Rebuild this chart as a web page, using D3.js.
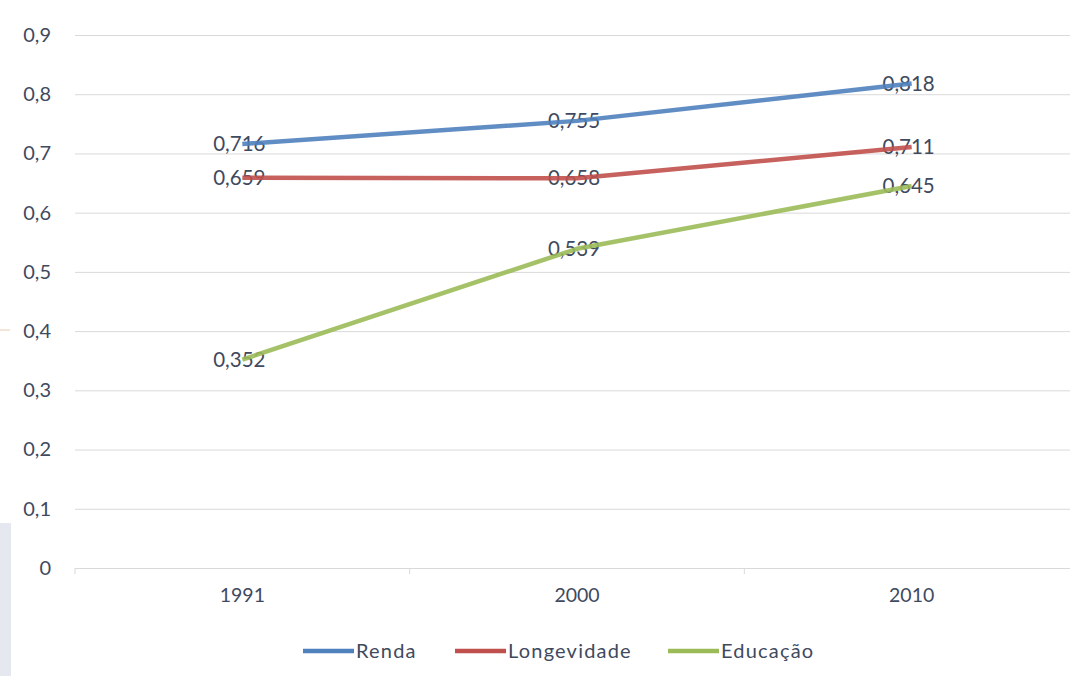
<!DOCTYPE html>
<html><head><meta charset="utf-8">
<script src="https://cdn.jsdelivr.net/npm/d3@7"></script>
<style>body{margin:0;background:#fff;overflow:hidden}svg{display:block}</style>
</head><body>
<svg id="c" width="1070" height="676"></svg>
<script>
const years = ["1991","2000","2010"];
const renda = [0.716, 0.755, 0.818];
const longevidade = [0.659, 0.658, 0.711];
const educacao = [0.352, 0.539, 0.645];
const yTicks = [0,0.1,0.2,0.3,0.4,0.5,0.6,0.7,0.8,0.9];
const seriesNames = ["Renda","Longevidade","Educação"];
const seriesColors = ["#4f81bd","#c0504d","#9bbb59"];
const seriesData = [renda, longevidade, educacao];

const svg = d3.select("#c");
const font = "Lato, 'Open Sans', sans-serif";
const txt = "#3f4a5e";

// artifacts at left edge
svg.append("rect").attr("x",0).attr("y",523).attr("width",11).attr("height",153).attr("fill","#e6e8f0");
svg.append("line").attr("x1",0).attr("x2",10).attr("y1",330).attr("y2",330).attr("stroke","#f2dccd").attr("stroke-width",1.5);

const x = d3.scaleBand().domain(years).range([75,1079]);
const y = d3.scaleLinear().domain([0,0.9]).range([568,35]);
const fmt = v => String(v).replace(".",",");

// gridlines
svg.append("g").selectAll("line").data(yTicks.filter(d=>d>0)).join("line")
  .attr("x1",75).attr("x2",1070).attr("y1",d=>y(d)+0.5).attr("y2",d=>y(d)+0.5)
  .attr("stroke","#d9d9d9").attr("stroke-width",1);

// x axis
const xa = svg.append("g").attr("transform","translate(0,"+(y(0)+0.5)+")")
  .call(d3.axisBottom(x).tickSize(0).tickPadding(20).tickFormat(d=>d));
xa.select(".domain").attr("stroke","#d9d9d9").attr("d","M75,0H1070");
xa.selectAll("text").attr("font-family",font).attr("font-size",19.5).attr("fill",txt);
// category boundary ticks
const bounds = [75, ...years.slice(1).map(d=>x(d))];
svg.append("g").selectAll("line").data(bounds).join("line")
  .attr("x1",d=>d).attr("x2",d=>d).attr("y1",y(0)).attr("y2",y(0)+6)
  .attr("stroke","#d9d9d9");

// y axis labels
const ya = svg.append("g").attr("transform","translate(51,0)")
  .call(d3.axisLeft(y).tickValues(yTicks).tickSize(0).tickPadding(0).tickFormat(fmt));
ya.select(".domain").remove();
ya.selectAll("text").attr("font-family",font).attr("font-size",20).attr("fill",txt);

const cx = d => x(d) + x.bandwidth()/2;

// data labels
seriesData.forEach((vals,i)=>{
  svg.append("g").selectAll("text").data(vals).join("text")
    .attr("x",(d,j)=>cx(years[j])-3).attr("y",d=>y(d)).attr("dy","0.35em")
    .attr("text-anchor","middle").attr("font-family",font).attr("font-size",20.5)
    .attr("fill",txt).text(fmt);
});

// lines
const line = d3.line().x((d,j)=>cx(years[j])).y(d=>y(d));
seriesData.forEach((vals,i)=>{
  svg.append("path").datum(vals).attr("d",line).attr("fill","none")
    .attr("stroke",seriesColors[i]).attr("stroke-width",4.5).attr("stroke-opacity",0.9)
    .attr("stroke-linejoin","round");
});

// legend
const legX = [303, 455, 668];
const lg = svg.append("g");
seriesNames.forEach((n,i)=>{
  lg.append("line").attr("x1",legX[i]).attr("x2",legX[i]+51).attr("y1",651).attr("y2",651)
    .attr("stroke",seriesColors[i]).attr("stroke-width",4.5);
  lg.append("text").attr("x",legX[i]+53).attr("y",651).attr("dy","0.35em")
    .attr("font-family",font).attr("font-size",20).attr("letter-spacing",1.2)
    .attr("fill",txt).text(n);
});
</script>
</body></html>
